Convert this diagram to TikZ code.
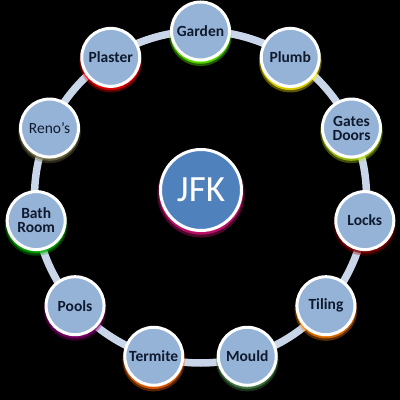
\documentclass[tikz,border=0pt]{standalone}
\usepackage{fontspec}
\setmainfont{Carlito}
\usepackage{tikz}
\usetikzlibrary{shadows}

\definecolor{ringc}{HTML}{C9D5E8}
\definecolor{itemc}{HTML}{95B3D7}
\definecolor{hubc}{HTML}{4F81BD}
\definecolor{inkc}{HTML}{101A2E}

\begin{document}
\begin{tikzpicture}[
    x=1pt, y=1pt,
    glow/.style={
        drop shadow={shadow xshift=0pt, shadow yshift=-3.5pt, shadow scale=1.08, draw=none, fill=#1, opacity=.35},
        drop shadow={shadow xshift=0pt, shadow yshift=-2.5pt, shadow scale=1.04, draw=none, fill=#1, opacity=.7},
        drop shadow={shadow xshift=0pt, shadow yshift=-2pt, draw=none, fill=#1, opacity=1}},
    item/.style={circle, draw=white, line width=3pt, fill=itemc, minimum size=58pt, inner sep=0pt,
        align=center, text=inkc, font=\fontsize{15.5}{16}\selectfont\bfseries},
    hub/.style={circle, draw=white, line width=3pt, fill=hubc, minimum size=81pt, inner sep=0pt,
        text=white, font=\fontsize{37}{37}\selectfont},
    ring/.style={draw=ringc, line width=7.5pt}
]

    % Background
    \fill[black] (-200.5,-203) rectangle (199.5,197);

    % Ring
    \draw[ring] (0,0) circle (166);

    % Hub
    \node[hub, glow={magenta!70!purple}] (jfk) at (0.5,7) {JFK};

    % Trades round the ring
    \node[item, glow={green!60!yellow}] (garden) at (90:166) {Garden};
    \node[item, glow=yellow] (plumb) at (57.27:166) {Plumb};
    \node[item, glow={yellow!70!green}] (gates) at (24.55:166) {Gates\\[-2pt]Doors};
    \node[item, glow={red!55!black}] (locks) at (-8.18:166) {Locks};
    \node[item, glow=orange] (tiling) at (-40.91:166) {Tiling};
    \node[item, glow={green!35!black!70}] (mould) at (-73.64:166) {Mould};
    \node[item, glow={orange!80!red}] (termite) at (-106.36:166) {Termite};
    \node[item, glow={violet!80!purple}] (pools) at (-139.09:166) {Pools};
    \node[item, glow={green!70!black}] (bath) at (-171.82:166) {Bath\\[-2pt]Room};
    \node[item, glow={yellow!40!black}, font=\fontsize{15.5}{16}\selectfont] (renos) at (155.45:166) {Reno's};
    \node[item, glow=red] (plaster) at (122.73:166) {Plaster};

\end{tikzpicture}
\end{document}
